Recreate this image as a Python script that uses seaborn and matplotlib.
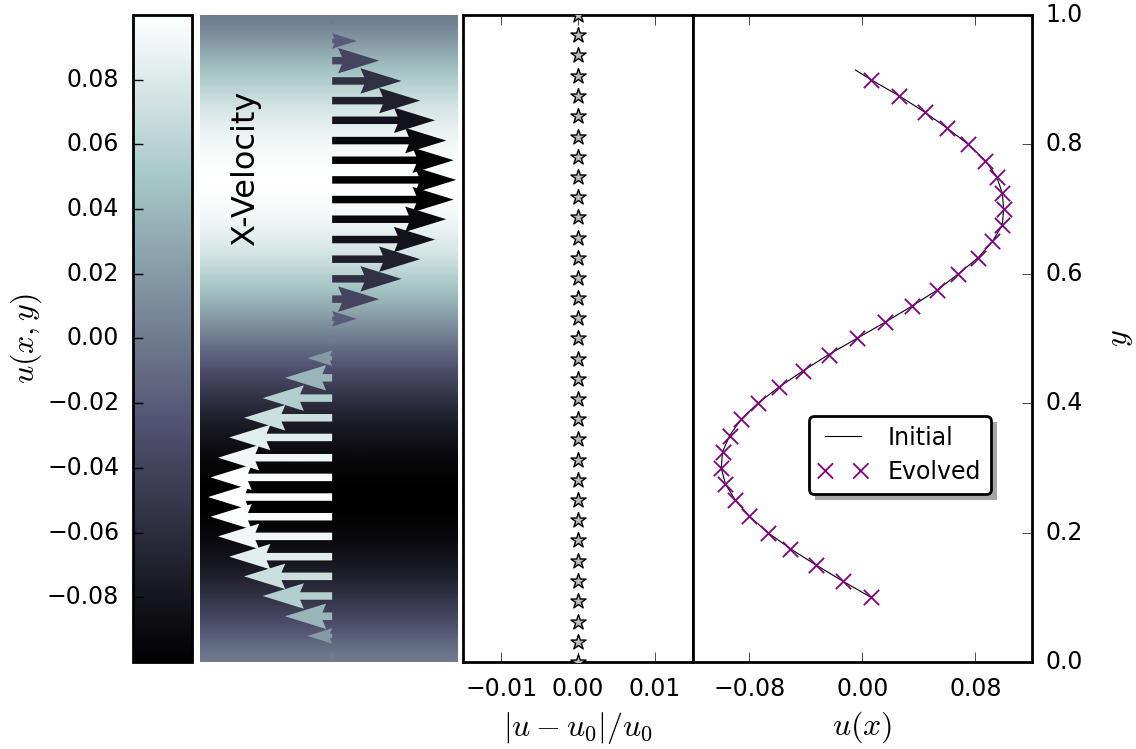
import numpy as np
import matplotlib
matplotlib.use('Agg')
import matplotlib.pyplot as plt
from matplotlib.patches import Rectangle
import seaborn as sns

# velocity field column: 33 rows, bottom (y=0) to top (y=1)
y_field = [0.000, 0.031, 0.062, 0.094, 0.125, 0.156, 0.188, 0.219, 0.250, 0.281, 0.312,
           0.344, 0.375, 0.406, 0.438, 0.469, 0.500, 0.531, 0.562, 0.594, 0.625, 0.656,
           0.688, 0.719, 0.750, 0.781, 0.812, 0.844, 0.875, 0.906, 0.938, 0.969, 1.000]
u_field = [0.000, -0.020, -0.038, -0.056, -0.071, -0.083, -0.092, -0.098, -0.100, -0.098,
           -0.092, -0.083, -0.071, -0.056, -0.038, -0.020, 0.000, 0.020, 0.038, 0.056,
           0.071, 0.083, 0.092, 0.098, 0.100, 0.098, 0.092, 0.083, 0.071, 0.056, 0.038,
           0.020, 0.000]

# relative error |u-u0|/u0 (middle panel)
err_rel = [0.0] * 33

# profile u(x) vs y (right panel)
y_evolved = [0.100, 0.125, 0.150, 0.175, 0.200, 0.225, 0.250, 0.275, 0.300, 0.325, 0.350,
             0.375, 0.400, 0.425, 0.450, 0.475, 0.500, 0.525, 0.550, 0.575, 0.600, 0.625,
             0.650, 0.675, 0.700, 0.725, 0.750, 0.775, 0.800, 0.825, 0.850, 0.875, 0.900]
u_evolved = [0.006, -0.014, -0.033, -0.051, -0.067, -0.080, -0.090, -0.097, -0.100, -0.099,
             -0.094, -0.086, -0.074, -0.059, -0.042, -0.024, -0.004, 0.016, 0.035, 0.053,
             0.068, 0.082, 0.092, 0.099, 0.100, 0.099, 0.095, 0.087, 0.075, 0.060, 0.044,
             0.026, 0.006]
y_initial = y_evolved + [0.915]
u_initial = u_evolved + [-0.005]

cb_ticks = [-0.08, -0.06, -0.04, -0.02, 0.00, 0.02, 0.04, 0.06, 0.08]

plt.style.use('classic')
plt.rcParams.update({
    'figure.facecolor': 'white', 'savefig.facecolor': 'white',
    'font.size': 17, 'xtick.labelsize': 17, 'ytick.labelsize': 17,
    'legend.fontsize': 17, 'axes.linewidth': 2, 'mathtext.fontset': 'cm',
    'xtick.major.size': 7, 'ytick.major.size': 7,
    'xtick.major.pad': 11, 'ytick.major.pad': 10,
})

fig = plt.figure(figsize=(11.36, 7.49), dpi=100)
cax = fig.add_axes([0.1171, 0.1162, 0.0519, 0.8638])
ax_img = fig.add_axes([0.1761, 0.1162, 0.2271, 0.8638])
ax_mid = fig.add_axes([0.4076, 0.1162, 0.2025, 0.8638])
ax_u = fig.add_axes([0.6100, 0.1162, 0.2984, 0.8638])

# background field + arrows
bg = np.column_stack([u_field, u_field])
im = ax_img.imshow(bg, origin='lower', extent=(0, 1, -1 / 64, 1 + 1 / 64), aspect='auto',
                   cmap='bone', vmin=-0.1, vmax=0.1, interpolation='bicubic')
n = len(y_field)
ax_img.quiver(np.full(n, 0.512), y_field, u_field, np.zeros(n), -np.array(u_field),
              cmap='bone', clim=(-0.1, 0.1), angles='xy', scale_units='xy', scale=0.208,
              width=0.029, headwidth=3.4, headlength=5.5, headaxislength=5.0, pivot='tail')
ax_img.set_xlim(0, 1)
ax_img.set_ylim(-0.01, 1.01)
ax_img.axis('off')
ax_img.text(0.175, 0.763, 'X-Velocity', rotation=90, transform=ax_img.transAxes,
            ha='center', va='center', fontsize=23)

cbar = fig.colorbar(im, cax=cax, ticks=cb_ticks)
cax.yaxis.set_ticks_position('left')
cax.yaxis.set_label_position('left')
cbar.set_label('$u(x,y)$', fontsize=23, labelpad=2)
cbar.outline.set_linewidth(2)
cax.tick_params(direction='in', length=7, width=1, pad=10, labelsize=17)

# middle panel
sns.scatterplot(x=err_rel, y=y_field, marker='*', s=130, color='#bdbdbd', edgecolor='k',
                linewidth=1, ax=ax_mid, zorder=3)
ax_mid.set_xlim(-0.015, 0.015)
ax_mid.set_ylim(0, 1)
ax_mid.set_xticks([-0.01, 0.0, 0.01])
ax_mid.set_yticks([])
ax_mid.set_xlabel(r'$|u-u_0|/u_0$', fontsize=23, labelpad=6)

# right panel
sns.lineplot(x=u_initial, y=y_initial, sort=False, estimator=None, color='k',
             linewidth=0.8, label='Initial', ax=ax_u)
sns.scatterplot(x=u_evolved, y=y_evolved, marker='x', s=121, color='purple',
                linewidth=1.3, label='Evolved', ax=ax_u, zorder=3)
ax_u.set_xlim(-0.12, 0.12)
ax_u.set_ylim(0, 1)
ax_u.set_xticks([-0.08, 0.0, 0.08])
ax_u.set_yticks([0.0, 0.2, 0.4, 0.6, 0.8, 1.0])
ax_u.yaxis.tick_right()
ax_u.yaxis.set_label_position('right')
ax_u.set_xlabel('$u(x)$', fontsize=23, labelpad=6)
ax_u.set_ylabel('$y$', fontsize=23, labelpad=15)

leg = ax_u.legend(loc='upper left', bbox_to_anchor=(0.342, 0.38), borderaxespad=0,
                  shadow=False, fancybox=True, scatterpoints=2, scatteryoffsets=[0.5],
                  handlelength=2.1, handletextpad=0.85, borderpad=0.4, labelspacing=0.45,
                  framealpha=1)
leg.get_frame().set_linewidth(2)
leg.get_frame().set_edgecolor('k')
leg.set_zorder(6)

# drop shadow behind the legend box
fig.canvas.draw()
bb = leg.get_frame().get_window_extent().transformed(fig.transFigure.inverted())
dx, dy = 6 / 1136, -6 / 749
shadow = Rectangle((bb.x0 + dx, bb.y0 + dy), bb.width, bb.height,
                   transform=fig.transFigure, facecolor='0.65', edgecolor='none',
                   zorder=5, clip_on=False)
ax_u.add_patch(shadow)

fig.savefig('out.png', dpi=100)
